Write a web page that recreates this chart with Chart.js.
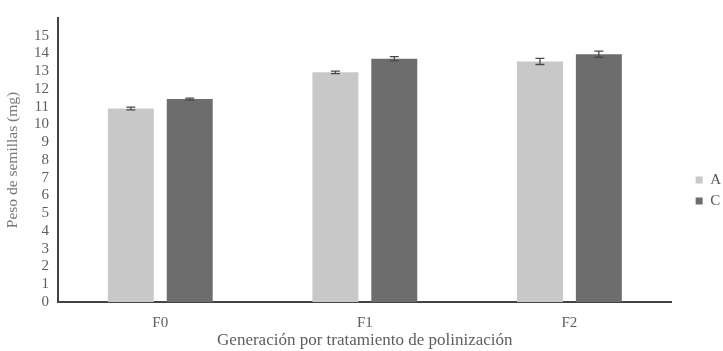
<!DOCTYPE html>
<html>
<head>
<meta charset="utf-8">
<script src="https://cdn.jsdelivr.net/npm/chart.js@4.4.1/dist/chart.umd.min.js"></script>
<style>
  html, body { margin: 0; padding: 0; background: #ffffff; }
  #wrap { width: 723px; height: 351px; position: relative; }
</style>
</head>
<body>
<div id="wrap"><canvas id="chart" width="723" height="351"></canvas></div>
<script>
// Generations (x categories)
const categories = ['F0', 'F1', 'F2'];
// Mean seed weight (mg) per pollination treatment
const seriesA = [10.9, 12.94, 13.55];
const seriesC = [11.43, 13.7, 13.96];
// Standard error for each mean
const errorA = [0.08, 0.07, 0.17];
const errorC = [0.06, 0.12, 0.17];
// Labelled y ticks
const yTicks = [0, 1, 2, 3, 4, 5, 6, 7, 8, 9, 10, 11, 12, 13, 14, 15];

const textFont = 'Liberation Serif, Times New Roman, serif';

// Draws a vertical error bar with caps on top of each bar
const errorBarPlugin = {
  id: 'errorBars',
  afterDatasetsDraw(chart) {
    const ctx = chart.ctx;
    const yScale = chart.scales.y;
    chart.data.datasets.forEach((ds, di) => {
      const meta = chart.getDatasetMeta(di);
      if (meta.hidden) return;
      meta.data.forEach((bar, i) => {
        const v = ds.data[i];
        const e = ds.errors[i];
        const yTop = yScale.getPixelForValue(v + e);
        const yBot = yScale.getPixelForValue(v - e);
        const x = bar.x;
        const cap = 4.5;
        ctx.save();
        ctx.strokeStyle = '#4a4a4a';
        ctx.lineWidth = 1.3;
        ctx.beginPath();
        ctx.moveTo(x, yTop); ctx.lineTo(x, yBot);
        ctx.moveTo(x - cap, yTop); ctx.lineTo(x + cap, yTop);
        ctx.moveTo(x - cap, yBot); ctx.lineTo(x + cap, yBot);
        ctx.stroke();
        ctx.restore();
      });
    });
  }
};

// Moves the legend block to its place at the right of the plot
const legendPlace = {
  id: 'legendPlace',
  afterLayout(chart) {
    const lg = chart.legend;
    if (!lg) return;
    const dx = 18, dy = 9;
    lg.left += dx; lg.right += dx;
    lg.top += dy; lg.bottom += dy;
  }
};

new Chart(document.getElementById('chart'), {
  type: 'bar',
  data: {
    labels: categories,
    datasets: [
      {
        label: 'A',
        data: seriesA,
        errors: errorA,
        backgroundColor: '#c8c8c8',
        borderWidth: 0,
        categoryPercentage: 0.576,
        barPercentage: 0.78
      },
      {
        label: 'C',
        data: seriesC,
        errors: errorC,
        backgroundColor: '#6d6d6d',
        borderWidth: 0,
        categoryPercentage: 0.576,
        barPercentage: 0.78
      }
    ]
  },
  options: {
    responsive: false,
    animation: false,
    devicePixelRatio: 1,
    layout: { padding: { top: 12, right: 10, bottom: 0, left: 0 } },
    plugins: {
      legend: {
        position: 'right',
        labels: {
          boxWidth: 7,
          boxHeight: 7,
          padding: 6,
          color: '#555555',
          font: { family: textFont, size: 15 }
        }
      },
      tooltip: { enabled: false }
    },
    scales: {
      x: {
        grid: { display: false, drawTicks: false },
        border: { display: true, color: '#444444', width: 2 },
        ticks: {
          color: '#5e5e5e',
          padding: 12,
          font: { family: textFont, size: 15 }
        },
        title: {
          display: true,
          text: 'Generación por tratamiento de polinización',
          color: '#5e5e5e',
          padding: { top: 0, bottom: 0 },
          font: { family: textFont, size: 17 }
        },
        afterFit(scale) { scale.height = 49; }
      },
      y: {
        min: 0,
        max: 16,
        grid: { display: false, drawTicks: false },
        border: { display: true, color: '#444444', width: 2 },
        afterBuildTicks(scale) {
          scale.ticks = yTicks.map(v => ({ value: v }));
        },
        ticks: {
          color: '#5e5e5e',
          padding: 9,
          autoSkip: false,
          font: { family: textFont, size: 15 }
        },
        title: {
          display: true,
          text: 'Peso de semillas (mg)',
          color: '#777777',
          padding: { top: 4, bottom: 0 },
          font: { family: textFont, size: 15.5 }
        },
        afterFit(scale) { scale.width = 58; }
      }
    }
  },
  plugins: [errorBarPlugin, legendPlace]
});
</script>
</body>
</html>
